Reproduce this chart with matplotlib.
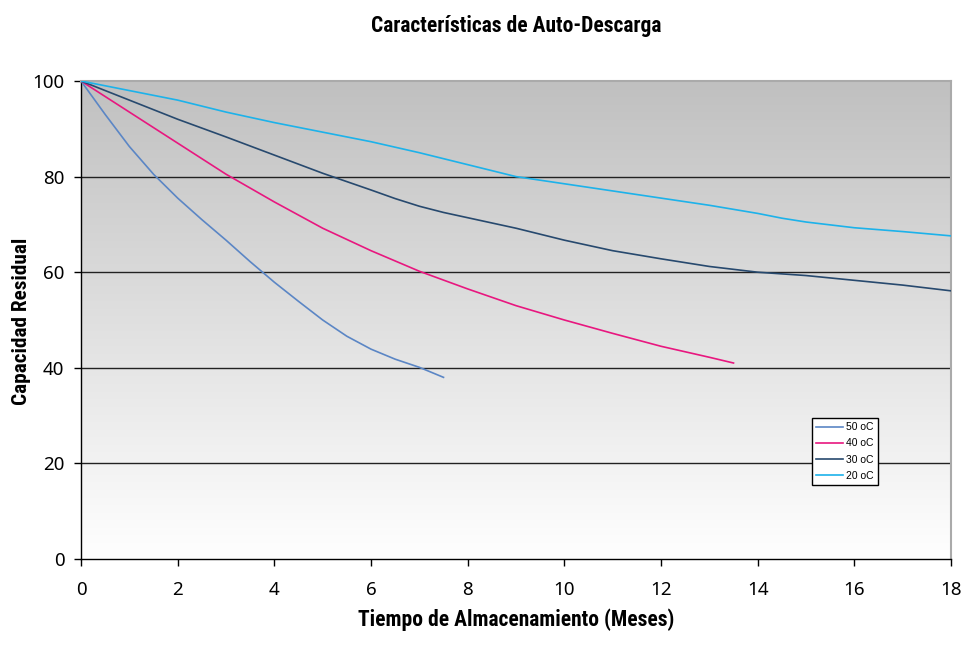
import numpy as np
import matplotlib
matplotlib.use('Agg')
import matplotlib.pyplot as plt
from matplotlib.colors import LinearSegmentedColormap

# datos (meses, capacidad residual %)
x50 = [0, 0.5, 1, 1.5, 2, 2.5, 3, 3.5, 4, 4.5, 5, 5.5, 6, 6.5, 7, 7.5]
y50 = [100, 93, 86.3, 80.5, 75.5, 71, 66.7, 62.2, 57.9, 53.9, 50, 46.6, 43.9, 41.8, 40.1, 38]

x40 = [0, 1, 2, 3, 4, 5, 6, 7, 8, 9, 10, 11, 12, 13, 13.5]
y40 = [100, 93.5, 87, 80.5, 74.7, 69.2, 64.5, 60.2, 56.5, 53, 50, 47.2, 44.5, 42.2, 41]

x30 = [0, 1, 2, 3, 4, 5, 6, 6.5, 7, 7.5, 8, 9, 10, 11, 12, 13, 14, 15, 16, 17, 18]
y30 = [100, 96, 92, 88.3, 84.5, 80.7, 77.2, 75.4, 73.8, 72.5, 71.4, 69.2, 66.7, 64.5, 62.8, 61.2, 60, 59.3, 58.3, 57.3, 56.1]

x20 = [0, 1, 2, 3, 4, 5, 6, 7, 8, 9, 10, 11, 12, 13, 14, 14.5, 15, 15.5, 16, 17, 18]
y20 = [100, 98, 96, 93.5, 91.3, 89.3, 87.3, 85, 82.5, 80, 78.5, 77, 75.5, 74, 72.3, 71.3, 70.5, 69.9, 69.3, 68.5, 67.6]

series = [('50 oC', x50, y50, '#5b86c5'),
          ('40 oC', x40, y40, '#e8177f'),
          ('30 oC', x30, y30, '#27496e'),
          ('20 oC', x20, y20, '#1db2ea')]

cond = ['Roboto Condensed', 'DejaVu Sans']
tick_font = ['Noto Sans', 'DejaVu Sans']

fig = plt.figure(figsize=(9.75, 6.46), dpi=100)
ax = fig.add_axes([0.0831, 0.1347, 0.8923, 0.7399])

# fondo degradado gris -> blanco
grad = LinearSegmentedColormap.from_list('g', ['#ffffff', '#c0c0c0'])
ax.imshow(np.linspace(0, 1, 256).reshape(-1, 1), cmap=grad, aspect='auto',
          extent=[0, 18, 0, 100], origin='lower', zorder=0)

for yv in [20, 40, 60, 80]:
    ax.axhline(yv, color='#222222', lw=1.0, zorder=1)

for lab, xs, ys, c in series:
    ax.plot(xs, ys, color=c, lw=1.2, label=lab, zorder=3,
            solid_joinstyle='round')

ax.set_xlim(0, 18)
ax.set_ylim(0, 100)
ax.set_xticks(range(0, 19, 2))
ax.set_yticks(range(0, 101, 20))
ax.tick_params(direction='out', length=5, width=1, labelsize=13.5)
ax.tick_params(axis='x', pad=11)
ax.tick_params(axis='y', pad=7)
for t in ax.get_xticklabels() + ax.get_yticklabels():
    t.set_family(tick_font)

for s in ['left', 'bottom']:
    ax.spines[s].set_color('black')
    ax.spines[s].set_linewidth(1.0)
for s in ['top', 'right']:
    ax.spines[s].set_color('#aaaaaa')
    ax.spines[s].set_linewidth(1.5)

fig.text(0.529, 1 - 26 / 646., 'Características de Auto-Descarga', family=cond,
         fontweight='bold', fontsize=15.5, ha='center', va='center')
fig.text(0.529, 1 - 620 / 646., 'Tiempo de Almacenamiento (Meses)', family=cond,
         fontweight='bold', fontsize=15.5, ha='center', va='center')
fig.text(22 / 975., 1 - 321 / 646., 'Capacidad Residual', family=cond,
         fontweight='bold', fontsize=15.3, ha='center', va='center', rotation=90)

leg = ax.legend(loc='upper left', bbox_to_anchor=(0.840, 0.295), fontsize=7.5,
                frameon=True, fancybox=False, handlelength=2.6,
                borderpad=0.4, labelspacing=0.6, handletextpad=0.3,
                borderaxespad=0, prop={'family': ['Liberation Sans', 'DejaVu Sans'], 'size': 7.5})
leg.get_frame().set_edgecolor('black')
leg.get_frame().set_linewidth(1.0)
leg.get_frame().set_facecolor('white')
leg.get_frame().set_alpha(1)

fig.savefig('out.png', dpi=100)
